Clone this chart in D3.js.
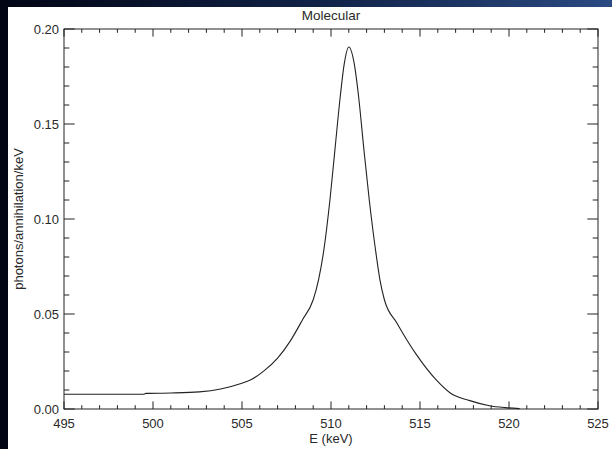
<!DOCTYPE html>
<html>
<head>
<meta charset="utf-8">
<script src="https://cdn.jsdelivr.net/npm/d3@7"></script>
<style>
  body { margin: 0; background: #fff; }
  svg { display: block; }
  text { font-family: "Liberation Sans", Arial, sans-serif; fill: #2a2a2a; }
</style>
</head>
<body>
<div id="plot"></div>
<script>
// energy (keV) and line profile (photons/annihilation/keV)
var energy = [495, 499.5, 499.6, 501, 502.6, 503.8, 504.9, 505.5, 506.2, 507.0, 507.7, 508.4,
  509.0, 509.3, 509.6, 509.94, 510.22, 510.52, 510.75, 511.0, 511.3, 511.55, 511.85, 512.15,
  512.5, 512.75, 513.0, 513.7, 514.8, 515.9, 516.7, 517.8, 518.9, 519.8, 520.6];
var intensity = [0.0078, 0.0078, 0.0082, 0.0084, 0.009, 0.0105, 0.0133, 0.0154, 0.0198, 0.0268,
  0.0356, 0.047, 0.0575, 0.068, 0.0838, 0.11, 0.1364, 0.1645, 0.182, 0.1905, 0.182, 0.1645,
  0.1364, 0.11, 0.0838, 0.068, 0.0575, 0.0453, 0.0286, 0.0154, 0.0084, 0.0044, 0.0017, 0.0007, 0.0002];

var xTicks = [495, 500, 505, 510, 515, 520, 525];
var yTicks = [0.00, 0.05, 0.10, 0.15, 0.20];
var title = "Molecular";
var xTitle = "E (keV)";
var yTitle = "photons/annihilation/keV";

var W = 612, H = 449;
var margin = {top: 29, right: 14, bottom: 40, left: 64};
var width = W - margin.left - margin.right;
var height = H - margin.top - margin.bottom;

var svg = d3.select("#plot").append("svg")
  .attr("width", W)
  .attr("height", H);

// dark border strips on top and left
var grad = svg.append("defs").append("linearGradient")
  .attr("id", "topgrad").attr("x1", "0%").attr("x2", "100%");
grad.append("stop").attr("offset", "0%").attr("stop-color", "#020514");
grad.append("stop").attr("offset", "55%").attr("stop-color", "#12244a");
grad.append("stop").attr("offset", "100%").attr("stop-color", "#2a4a82");
svg.append("rect").attr("x", 0).attr("y", 0).attr("width", W).attr("height", 7).attr("fill", "url(#topgrad)");
svg.append("rect").attr("x", 0).attr("y", 0).attr("width", 8).attr("height", H).attr("fill", "#020514");

var g = svg.append("g")
  .attr("transform", "translate(" + margin.left + "," + margin.top + ")");

var x = d3.scaleLinear().domain([495, 525]).range([0, width]);
var y = d3.scaleLinear().domain([0, 0.20]).range([height, 0]);

var xMinor = d3.range(495, 525.01, 1);
var yMinor = d3.range(0, 0.2001, 0.01);

function isMajor(v, step) { return Math.abs(v / step - Math.round(v / step)) < 1e-6; }

// frame
g.append("rect").attr("width", width).attr("height", height)
  .attr("fill", "none").attr("stroke", "#222").attr("stroke-width", 1);

// x ticks (bottom & top, inward)
var xt = g.append("g").attr("stroke", "#222").attr("stroke-width", 1);
xMinor.forEach(function(v) {
  var len = isMajor(v - 495, 5) ? 7.6 : 3.8;
  xt.append("line").attr("x1", x(v)).attr("x2", x(v)).attr("y1", height).attr("y2", height - len);
  xt.append("line").attr("x1", x(v)).attr("x2", x(v)).attr("y1", 0).attr("y2", len);
});
// y ticks (left & right, inward)
yMinor.forEach(function(v) {
  var len = isMajor(v, 0.05) ? 10.7 : 5.3;
  xt.append("line").attr("y1", y(v)).attr("y2", y(v)).attr("x1", 0).attr("x2", len);
  xt.append("line").attr("y1", y(v)).attr("y2", y(v)).attr("x1", width).attr("x2", width - len);
});

// tick labels
g.selectAll(".xl").data(xTicks).enter().append("text")
  .attr("x", function(d) { return x(d); })
  .attr("y", height + 19)
  .attr("text-anchor", "middle")
  .style("font-size", "13px")
  .text(function(d) { return d; });

g.selectAll(".yl").data(yTicks).enter().append("text")
  .attr("x", -5)
  .attr("y", function(d) { return y(d) + 5; })
  .attr("text-anchor", "end")
  .style("font-size", "13px")
  .text(function(d) { return d3.format(".2f")(d); });

// titles
svg.append("text").attr("x", margin.left + width / 2).attr("y", 20)
  .attr("text-anchor", "middle").style("font-size", "13.5px").text(title);
svg.append("text").attr("x", margin.left + width / 2).attr("y", 443)
  .attr("text-anchor", "middle").style("font-size", "13px").text(xTitle);
svg.append("text")
  .attr("transform", "translate(23," + (margin.top + height / 2) + ") rotate(-90)")
  .attr("text-anchor", "middle").style("font-size", "13px").text(yTitle);

// curve
var line = d3.line()
  .x(function(d, i) { return x(energy[i]); })
  .y(function(d) { return y(d); })
  .curve(d3.curveMonotoneX);

g.append("path").datum(intensity)
  .attr("d", line)
  .attr("fill", "none")
  .attr("stroke", "#222")
  .attr("stroke-width", 1.1);
</script>
</body>
</html>
